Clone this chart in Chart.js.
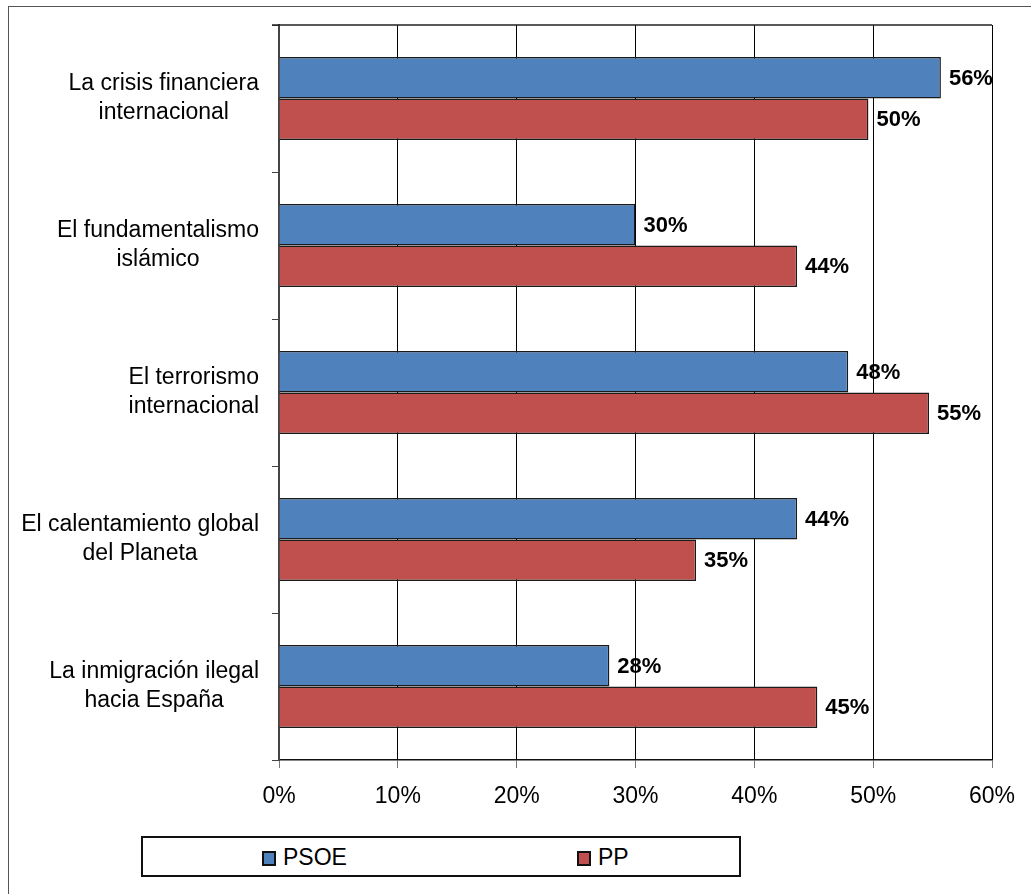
<!DOCTYPE html>
<html lang="es">
<head>
<meta charset="UTF-8">
<title>PSOE / PP</title>
<script src="https://cdn.jsdelivr.net/npm/chart.js"></script>
<style>
    body { margin: 0; background: #fff; font-family: "Liberation Sans", Arial, sans-serif; }
    .wrap { position: relative; width: 1031px; height: 894px; overflow: hidden; }
    .frame {
        position: absolute; left: 8px; top: 6px; width: 1040px; height: 910px;
        border: 1px solid #555; box-sizing: border-box;
    }
    canvas { position: absolute; left: 0; top: 0; }
    .legend {
        position: absolute; left: 141px; top: 836px; width: 600px; height: 41px;
        border: 2px solid #111; box-sizing: border-box; background: #fff;
    }
    .item { position: absolute; top: 6px; font-size: 23px; line-height: 26px; }
    .item i {
        display: inline-block; width: 10px; height: 11px; border: 2px solid #111;
        margin-right: 7px; vertical-align: -1px;
    }
</style>
</head>
<body>
<div class="wrap">
    <div class="frame"></div>
    <canvas id="chart" width="1031" height="894"></canvas>
    <div class="legend">
        <div class="item" style="left:119px"><i style="background:#4F81BD"></i>PSOE</div>
        <div class="item" style="left:434px"><i style="background:#C0504D"></i>PP</div>
    </div>
</div>

<script>
    // category labels, one array of lines each
    const categories = [
        ['La crisis financiera', 'internacional'],
        ['El fundamentalismo', 'islámico'],
        ['El terrorismo', 'internacional'],
        ['El calentamiento global', 'del Planeta'],
        ['La inmigración ilegal', 'hacia España']
    ];
    const psoe = [55.7, 30.0, 47.9, 43.6, 27.8];
    const pp = [49.6, 43.6, 54.7, 35.1, 45.3];
    const xTicks = [0, 10, 20, 30, 40, 50, 60];

    const FONT = '"Liberation Sans", Arial, sans-serif';

    const frameTop = {
        id: 'frameTop',
        afterDraw(chart) {
            const { ctx, chartArea: a } = chart;
            ctx.save();
            ctx.strokeStyle = '#222';
            ctx.lineWidth = 1.5;
            ctx.beginPath();
            ctx.moveTo(a.left - 7, a.top);
            ctx.lineTo(a.right, a.top);
            ctx.stroke();
            ctx.restore();
        }
    };

    const valueLabels = {
        id: 'valueLabels',
        afterDatasetsDraw(chart) {
            const ctx = chart.ctx;
            ctx.save();
            ctx.font = 'bold 22px ' + FONT;
            ctx.fillStyle = '#000';
            ctx.textAlign = 'left';
            ctx.textBaseline = 'middle';
            chart.data.datasets.forEach((ds, di) => {
                chart.getDatasetMeta(di).data.forEach((bar, i) => {
                    ctx.fillText(Math.round(ds.data[i]) + '%', bar.x + 8, bar.y + 1);
                });
            });
            ctx.restore();
        }
    };

    const catLabels = {
        id: 'catLabels',
        afterDraw(chart) {
            const ctx = chart.ctx;
            const y = chart.scales.y;
            ctx.save();
            ctx.font = '23px ' + FONT;
            ctx.fillStyle = '#000';
            ctx.textAlign = 'center';
            ctx.textBaseline = 'middle';
            categories.forEach((lines, i) => {
                const cy = y.getPixelForValue(i);
                const w = Math.max(...lines.map(l => ctx.measureText(l).width));
                const cx = 259 - w / 2;
                lines.forEach((l, j) => {
                    ctx.fillText(l, cx, cy + (j - (lines.length - 1) / 2) * 29);
                });
            });
            ctx.restore();
        }
    };

    new Chart(document.getElementById('chart'), {
        type: 'bar',
        data: {
            labels: categories.map(c => c.join(' ')),
            datasets: [
                { label: 'PSOE', data: psoe, backgroundColor: '#4F81BD' },
                { label: 'PP', data: pp, backgroundColor: '#C0504D' }
            ]
        },
        options: {
            indexAxis: 'y',
            responsive: false,
            animation: false,
            layout: { padding: { top: 25, right: 39, left: 0, bottom: 0 } },
            datasets: {
                bar: {
                    categoryPercentage: 0.565,
                    barPercentage: 1,
                    borderColor: '#1a1a1a',
                    borderWidth: 1.5
                }
            },
            plugins: { legend: { display: false }, tooltip: { enabled: false } },
            scales: {
                x: {
                    min: 0, max: 60,
                    afterBuildTicks(scale) { scale.ticks = xTicks.map(v => ({ value: v })); },
                    afterFit(scale) { scale.height = 134; },
                    ticks: {
                        callback: v => v + '%',
                        color: '#000',
                        font: { family: FONT, size: 23 },
                        padding: 15
                    },
                    grid: { color: '#000', lineWidth: 1, tickLength: 8, tickColor: '#777' },
                    border: { color: '#111', width: 1.5 }
                },
                y: {
                    afterFit(scale) { scale.width = 279; },
                    ticks: { display: false },
                    grid: { offset: true, drawOnChartArea: false, tickLength: 7, tickColor: '#444', lineWidth: 1 },
                    border: { color: '#444', width: 2 }
                }
            }
        },
        plugins: [frameTop, valueLabels, catLabels]
    });
</script>
</body>
</html>
